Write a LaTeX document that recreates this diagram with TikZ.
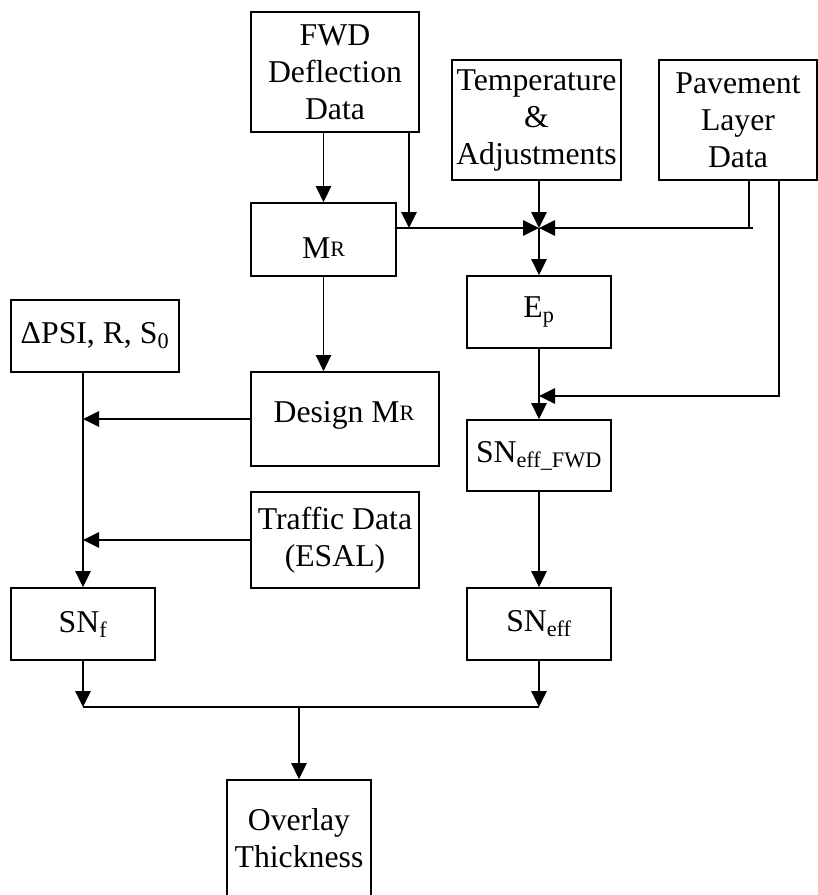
\documentclass[tikz,border=0pt]{standalone}
\usepackage{fontspec}
\setmainfont{Liberation Serif}
\usetikzlibrary{arrows.meta}
\newcommand\bigfont{\fontsize{23.8pt}{27.75pt}\selectfont}
\newcommand\mrR{M\raisebox{1.2pt}{\fontsize{16.5pt}{16.5pt}\selectfont R}}
\begin{document}
\begin{tikzpicture}[x=0.75pt,y=-0.75pt,
  box/.style={draw, line width=1.3pt, inner sep=0pt, align=center, font=\bigfont},
  txt/.style={inner sep=0pt, font=\bigfont, anchor=base},
  arr/.style={line width=1.3pt, -{Triangle[length=12pt,width=11.5pt]}},
  ln/.style={line width=1.3pt}]
\useasboundingbox (0,0) rectangle (817,895);
% boxes
\node[box, minimum width=126pt, minimum height=90pt] (fwd) at (335,72) {FWD\\Deflection\\Data};
\node[box, minimum width=126.75pt, minimum height=90pt] (temp) at (536.5,120) {Temperature\\\&\\Adjustments};
\node[box, minimum width=118.5pt, minimum height=90pt] (pav) at (738,120) {Pavement\\Layer\\Data};
\node[box, minimum width=108.75pt, minimum height=54.75pt] (mr) at (323.5,239.5) {};
\node[txt] (mrt) at (323.5,258) {\mrR};
\node[box, minimum width=108pt, minimum height=54pt] (ep) at (539,312) {E\textsubscript{p}};
\node[box, minimum width=126pt, minimum height=54pt] (psi) at (95,336) {ΔPSI, R, S\textsubscript{0}};
\node[box, minimum width=141pt, minimum height=70.5pt] (dmr) at (345,419) {};
\node[txt] (dmrt) at (344,422) {Design \mrR};
\node[box, minimum width=126pt, minimum height=72pt] (traffic) at (335,540) {Traffic Data\\(ESAL)};
\node[box, minimum width=108pt, minimum height=53.25pt] (snfwd) at (539,455.5) {SN\textsubscript{eff\_FWD}};
\node[box, minimum width=108pt, minimum height=54pt] (snf) at (83,624) {SN\textsubscript{f}};
\node[box, minimum width=108pt, minimum height=54pt] (sneff) at (539,624) {SN\textsubscript{eff}};
\node[box, minimum width=108pt, minimum height=87pt] (ovl) at (299,838) {Overlay\\Thickness};
% junction coordinates
\coordinate (J) at (539,228);
\coordinate (Jp) at (749,228);
\coordinate (Jpe) at (753,228);
\coordinate (Kr) at (779,396);
\coordinate (K) at (539,396);
\coordinate (B1) at (83,707);
\coordinate (B2) at (539,707);
\coordinate (B3) at (299,707);
\coordinate (Fr) at (409,228);
% connectors
\draw[arr] (mr.north |- fwd.south) -- (mr.north);
\draw[arr] (Fr |- fwd.south) -- (Fr);
\draw[arr] (mr.east |- J) -- (J);
\draw[arr] (J |- temp.south) -- (J);
\draw[ln] (Jp |- pav.south) -- (Jp);
\draw[arr] (Jpe) -- (J);
\draw[arr] (J) -- (ep.north);
\draw[arr] (ep.south) -- (snfwd.north);
\draw[arr] (Kr |- pav.south) -- (Kr) -- (K);
\draw[arr] (snfwd.south) -- (sneff.north);
\draw[arr] (mr.south) -- (mr.south |- dmr.north);
\draw[arr] (snf.north |- psi.south) -- (snf.north);
\draw[arr] (dmr.west) -- (dmr.west -| snf.north);
\draw[arr] (traffic.west) -- (traffic.west -| snf.north);
\draw[arr] (snf.south) -- (B1);
\draw[arr] (sneff.south) -- (B2);
\draw[ln] (B1) -- (B2);
\draw[arr] (B3) -- (ovl.north);
\end{tikzpicture}
\end{document}
